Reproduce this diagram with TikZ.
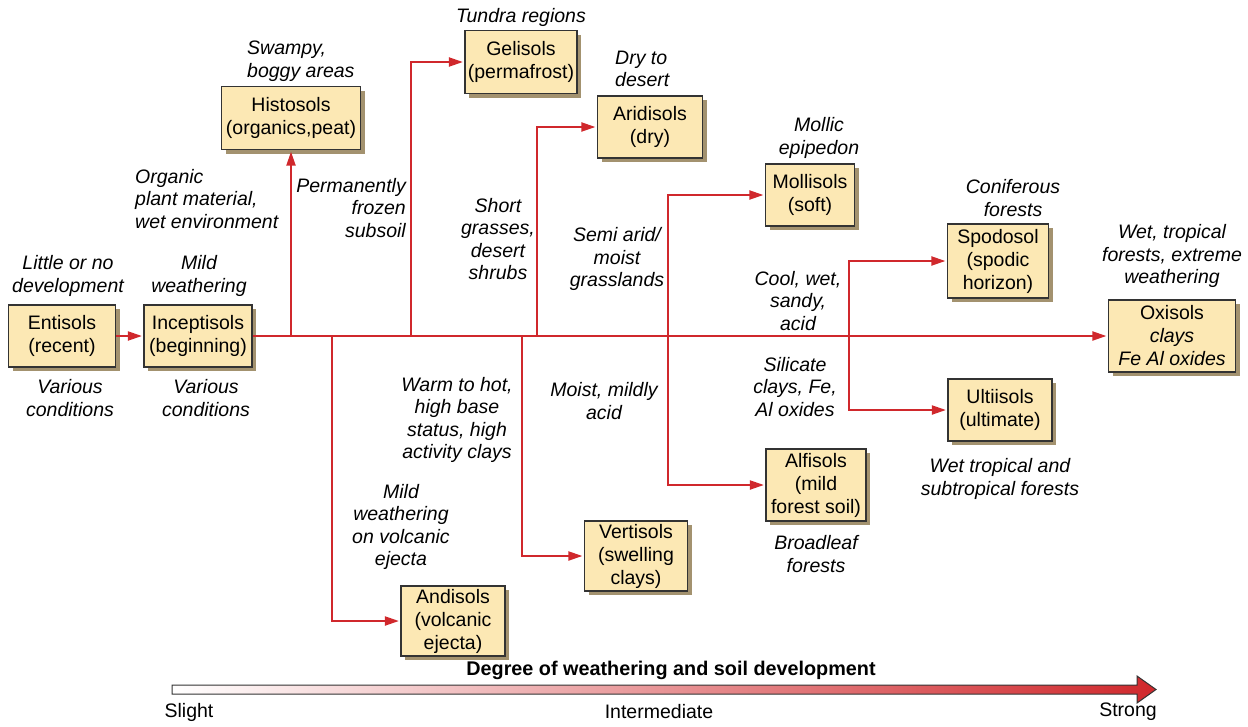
\documentclass[tikz,border=0pt]{standalone}
\usepackage{fontspec}
\setmainfont{Liberation Sans}
\usetikzlibrary{arrows.meta,shadows}
\definecolor{boxfill}{HTML}{FCE8B4}
\definecolor{boxshadow}{HTML}{A3926F}
\definecolor{flow}{HTML}{D0282C}
\definecolor{edge}{HTML}{333333}
\definecolor{scalemid}{HTML}{F0C2B0}
\begin{document}
\begin{tikzpicture}[x=1pt,y=-1pt,
  soil/.style={draw=edge, line width=1.2pt, fill=boxfill, align=center, inner sep=0pt,
    font=\fontsize{19.5}{23}\selectfont,
    drop shadow={shadow xshift=4pt, shadow yshift=-4pt, fill=boxshadow, opacity=1}},
  note/.style={align=center, inner sep=0pt, font=\fontsize{19.5}{22.5}\selectfont\itshape},
  scalelabel/.style={inner sep=0pt, font=\fontsize{19.5}{23}\selectfont},
  flowline/.style={draw=flow, line width=2pt, shorten >=1.5pt, -{Triangle[length=14pt,width=9pt]}},
]
\useasboundingbox (0,0) rectangle (1248,726);

% soil orders
\node[soil, minimum width=107, minimum height=62] (enti)  at (62,336)  {Entisols\\(recent)};
\node[soil, minimum width=108, minimum height=62] (incep) at (198,336) {Inceptisols\\(beginning)};
\node[soil, minimum width=139, minimum height=63] (histo) at (291,118) {Histosols\\(organics,peat)};
\node[soil, minimum width=112, minimum height=63] (geli)  at (521,62)  {Gelisols\\(permafrost)};
\node[soil, minimum width=105, minimum height=62] (aridi) at (650,127) {Aridisols\\(dry)};
\node[soil, minimum width=89,  minimum height=62] (molli) at (810,195) {Mollisols\\(soft)};
\node[soil, minimum width=101, minimum height=74] (spodo) at (998,261) {Spodosol\\(spodic\\horizon)};
\node[soil, minimum width=127, minimum height=72] (oxi)   at (1172,336) {Oxisols\\\textit{clays}\\\textit{Fe Al oxides}};
\node[soil, minimum width=104, minimum height=62] (ulti)  at (1000,410) {Ultiisols\\(ultimate)};
\node[soil, minimum width=100, minimum height=72] (alfi)  at (816,485) {Alfisols\\(mild\\forest soil)};
\node[soil, minimum width=103, minimum height=70] (verti) at (636,556) {Vertisols\\(swelling\\clays)};
\node[soil, minimum width=104, minimum height=70] (andi)  at (453,621) {Andisols\\(volcanic\\ejecta)};

% branch points on the main line
\coordinate (bhisto) at (291,336);
\coordinate (bgeli)  at (411,336);
\coordinate (baridi) at (537,336);
\coordinate (bmoll)  at (668,336);
\coordinate (bspodo) at (849,336);
\coordinate (bandi)  at (332,336);
\coordinate (bverti) at (522,336);

% connectors
\draw[flowline] (enti) -- (incep);
\draw[flowline] (incep.east) -- (oxi.west);
\draw[flowline] (bhisto) -- (histo.south);
\draw[flowline] (bgeli) |- (geli.west);
\draw[flowline] (baridi) |- (aridi.west);
\draw[flowline] (bmoll) |- (molli.west);
\draw[flowline] (bmoll) |- (alfi.west);
\draw[flowline] (bspodo) |- (spodo.west);
\draw[flowline] (bspodo) |- (ulti.west);
\draw[flowline] (bandi) |- (andi.west);
\draw[flowline] (bverti) |- (verti.west);

% conditions
\node[note] (n1) at (68,276) {Little or no\\development};
\node[note] (n2) at (199,276) {Mild\\weathering};
\node[note] (n3) at (70,398) {Various\\conditions};
\node[note] (n4) at (206,398) {Various\\conditions};
\node[note, align=left, anchor=west] (n5) at (135,199) {Organic\\plant material,\\wet environment};
\node[note, align=left, anchor=west] (n6) at (247,61) {Swampy,\\boggy areas};
\node[note, align=right, anchor=east] (n7) at (406,208) {Permanently\\frozen\\subsoil};
\node[note] (n8) at (521,17) {Tundra regions};
\node[note, align=left, anchor=west] (n9) at (615,69) {Dry to\\desert};
\node[note] (n10) at (498,239) {Short\\grasses,\\desert\\shrubs};
\node[note] (n11) at (819,138) {Mollic\\epipedon};
\node[note] (n12) at (617,259) {Semi arid/\\moist\\grasslands};
\node[note] (n13) at (1013,198) {Coniferous\\forests};
\node[note] (n14) at (1172,256) {Wet, tropical\\forests, extreme\\weathering};
\node[note] (n15) at (798,301) {Cool, wet,\\sandy,\\acid};
\node[note] (n16) at (795,387) {Silicate\\clays, Fe,\\Al oxides};
\node[note] (n17) at (1000,479) {Wet tropical and\\subtropical forests};
\node[note] (n18) at (604,401) {Moist, mildly\\acid};
\node[note] (n19) at (457,420) {Warm to hot,\\high base\\status, high\\activity clays};
\node[note] (n20) at (401,527) {Mild\\weathering\\on volcanic\\ejecta};
\node[note] (n21) at (816,554) {Broadleaf\\forests};

% weathering scale
\node[inner sep=0pt, font=\fontsize{19.8}{23}\selectfont\bfseries] (title) at (671,670)
  {Degree of weathering and soil development};
\draw[edge, line width=1pt, left color=white, middle color=scalemid, right color=flow]
  (172,685) -- (1137,685) -- (1137,676) -- (1156,689.5) -- (1137,703) -- (1137,694) -- (172,694) -- cycle;
\node[scalelabel] (slight) at (189,712) {Slight};
\node[scalelabel] (inter) at (659,712) {Intermediate};
\node[scalelabel] (strong) at (1128,712) {Strong};
\end{tikzpicture}
\end{document}
